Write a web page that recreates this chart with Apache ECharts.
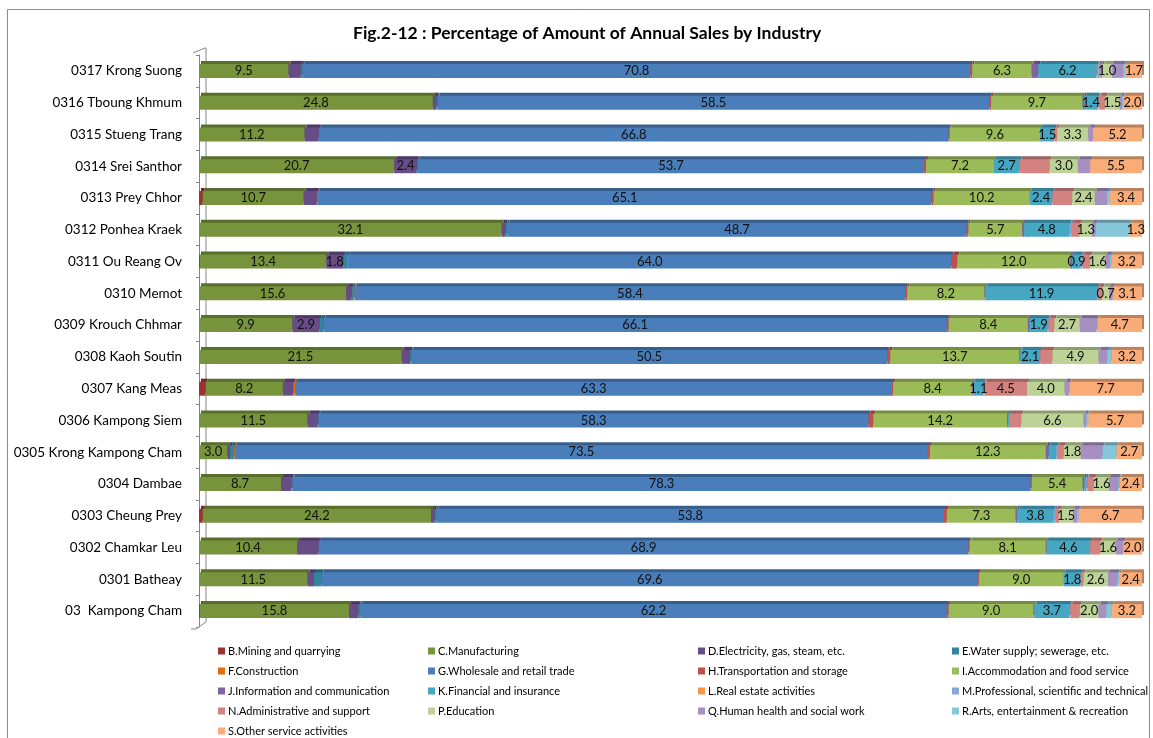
<!DOCTYPE html>
<html lang="en">
<head>
<meta charset="UTF-8">
<title>Fig.2-12</title>
<style>
  html, body { margin: 0; padding: 0; background: #fff; }
  #main { width: 1153px; height: 738px; }
</style>
</head>
<body>
<div id="main"></div>
<script src="https://cdn.jsdelivr.net/npm/echarts@6/dist/echarts.min.js"></script>
<script>
// districts, bottom to top as the axis draws them
var districts = ['03  Kampong Cham', '0301 Batheay', '0302 Chamkar Leu', '0303 Cheung Prey', '0304 Dambae',
  '0305 Krong Kampong Cham', '0306 Kampong Siem', '0307 Kang Meas', '0308 Kaoh Soutin', '0309 Krouch Chhmar',
  '0310 Memot', '0311 Ou Reang Ov', '0312 Ponhea Kraek', '0313 Prey Chhor', '0314 Srei Santhor',
  '0315 Stueng Trang', '0316 Tboung Khmum', '0317 Krong Suong'];

// share of annual sales (%) by industry, same order as districts
var mining    = [0.1, 0, 0, 0.4, 0, 0, 0, 0.7, 0, 0, 0, 0.1, 0, 0.4, 0, 0, 0, 0];
var manufact  = [15.8, 11.5, 10.4, 24.2, 8.7, 3.0, 11.5, 8.2, 21.5, 9.9, 15.6, 13.4, 32.1, 10.7, 20.7, 11.2, 24.8, 9.5];
var electric  = [1.0, 0.7, 2.3, 0.4, 1.1, 0.3, 1.1, 1.1, 0.9, 2.9, 0.6, 1.8, 0.4, 1.4, 2.4, 1.5, 0.4, 1.3];
var water     = [0.2, 0.8, 0, 0.2, 0.1, 0.4, 0.1, 0, 0.1, 0.4, 0.2, 0.4, 0.2, 0, 0.1, 0, 0.1, 0.2];
var construct = [0, 0, 0, 0, 0, 0.1, 0, 0.2, 0, 0, 0.1, 0.1, 0, 0.1, 0, 0, 0, 0];
var wholesale = [62.2, 69.6, 68.9, 53.8, 78.3, 73.5, 58.3, 63.3, 50.5, 66.1, 58.4, 64.0, 48.7, 65.1, 53.7, 66.8, 58.5, 70.8];
var transport = [0.2, 0.1, 0.1, 0.3, 0.1, 0.2, 0.5, 0.1, 0.3, 0.2, 0.2, 0.6, 0.2, 0.2, 0.2, 0.1, 0.2, 0.2];
var accommod  = [9.0, 9.0, 8.1, 7.3, 5.4, 12.3, 14.2, 8.4, 13.7, 8.4, 8.2, 12.0, 5.7, 10.2, 7.2, 9.6, 9.7, 6.3];
var infocomm  = [0.1, 0, 0.1, 0.2, 0.2, 0.3, 0.1, 0.1, 0.1, 0.2, 0.1, 0.2, 0.2, 0, 0, 0, 0.2, 0.7];
var financial = [3.7, 1.8, 4.6, 3.8, 0.2, 0.8, 0.1, 1.1, 2.1, 1.9, 11.9, 0.9, 4.8, 2.4, 2.7, 1.5, 1.4, 6.2];
var realest   = [0, 0, 0, 0, 0, 0, 0, 0, 0, 0, 0, 0, 0, 0, 0, 0, 0.1, 0.1];
var professnl = [0.1, 0, 0, 0.2, 0.1, 0.2, 0, 0.1, 0, 0.1, 0, 0.2, 0.2, 0, 0, 0, 0.1, 0.3];
var adminsup  = [1.0, 0.3, 1.1, 0.4, 0.7, 0.6, 1.3, 4.5, 1.3, 0.6, 0.5, 0.8, 0.9, 2.1, 3.2, 0.3, 0.6, 0.2];
var education = [2.0, 2.6, 1.6, 1.5, 1.6, 1.8, 6.6, 4.0, 4.9, 2.7, 0.7, 1.6, 1.3, 2.4, 3.0, 3.3, 1.5, 1.0];
var health    = [0.8, 1.0, 0.8, 0.4, 1.0, 2.3, 0.3, 0.5, 0.9, 1.8, 0.4, 0.5, 0.4, 1.3, 1.3, 0.5, 0.3, 1.2];
var arts      = [0.6, 0.2, 0, 0.2, 0.1, 1.5, 0.2, 0, 0.5, 0.1, 0, 0.2, 3.6, 0.3, 0, 0, 0.1, 0.3];
var otherserv = [3.2, 2.4, 2.0, 6.7, 2.4, 2.7, 5.7, 7.7, 3.2, 4.7, 3.1, 3.2, 1.3, 3.4, 5.5, 5.2, 2.0, 1.7];

// name, data, colour, smallest value that gets a label (null = never)
var industries = [
  ['B.Mining and quarrying', mining, '#9B3431', null],
  ['C.Manufacturing', manufact, '#77933C', 0.5],
  ['D.Electricity, gas, steam, etc.', electric, '#674C86', 1.8],
  ['E.Water supply; sewerage, etc.', water, '#31859C', null],
  ['F.Construction', construct, '#E46C0A', null],
  ['G.Wholesale and retail trade', wholesale, '#4A7EBB', 0.5],
  ['H.Transportation and storage', transport, '#C0504D', null],
  ['I.Accommodation and food service', accommod, '#9BBB59', 0.5],
  ['J.Information and communication', infocomm, '#8064A2', null],
  ['K.Financial and insurance', financial, '#46A7C2', 0.9],
  ['L.Real estate activities', realest, '#F79646', null],
  ['M.Professional, scientific and technical', professnl, '#88A6D6', null],
  ['N.Administrative and support', adminsup, '#D38280', 4.0],
  ['P.Education', education, '#BDD296', 0.5],
  ['Q.Human health and social work', health, '#A690C2', null],
  ['R.Arts, entertainment & recreation', arts, '#86C6D9', null],
  ['S.Other service activities', otherserv, '#F9AC78', 0.5]
];
// labels the original leaves off
var hiddenLabels = [['0302 Chamkar Leu', 'D.Electricity, gas, steam, etc.']];

function darker(hex, k) {
  var n = parseInt(hex.slice(1), 16);
  var r = Math.round(((n >> 16) & 255) * k), g = Math.round(((n >> 8) & 255) * k), b = Math.round((n & 255) * k);
  return 'rgb(' + r + ',' + g + ',' + b + ')';
}

var FONT = 'Lato, "Open Sans", sans-serif';
var GRID = { left: 199, right: 11, top: 55, bottom: 111 };
var AXIS_GREY = '#868686';

var series = industries.map(function (ind) {
  return {
    name: ind[0],
    type: 'bar',
    stack: 'total',
    barWidth: 14,
    data: ind[1],
    itemStyle: {
      color: ind[2],
      shadowColor: darker(ind[2], 0.75),
      shadowBlur: 0,
      shadowOffsetX: 2,
      shadowOffsetY: -3
    },
    label: {
      show: ind[3] !== null,
      position: 'inside',
      color: '#111',
      fontFamily: FONT,
      fontSize: 13,
      formatter: function (p) {
        if (ind[3] === null || p.value < ind[3]) return '';
        for (var i = 0; i < hiddenLabels.length; i++) {
          if (hiddenLabels[i][0] === p.name && hiddenLabels[i][1] === ind[0]) return '';
        }
        return p.value.toFixed(1);
      }
    },
    emphasis: { disabled: true }
  };
});

// legend laid out in four columns like the original
var legendCols = [[0, 4, 8, 12, 16], [1, 5, 9, 13], [2, 6, 10, 14], [3, 7, 11, 15]];
var legendLeft = [213, 423, 693, 947];
var legends = legendCols.map(function (col, c) {
  return {
    orient: 'vertical',
    left: legendLeft[c],
    top: 639,
    height: 120,
    itemWidth: 7,
    itemHeight: 7,
    itemGap: 6,
    icon: 'rect',
    selectedMode: false,
    itemStyle: { shadowBlur: 0, shadowOffsetX: 0, shadowOffsetY: 0, shadowColor: 'transparent' },
    textStyle: { fontFamily: FONT, fontSize: 11, color: '#000', lineHeight: 14, padding: [0, 0, 0, -2] },
    data: col.map(function (i) { return industries[i][0]; })
  };
});

// 3D-looking wall edges beside the category axis
var axisX = GRID.left - 6, wallX = GRID.left + 7;
var plotBottom = 738 - GRID.bottom;
var wall = [
  { type: 'polyline', shape: { points: [[axisX, GRID.top - 2], [wallX - 1, GRID.top - 7], [wallX, GRID.top - 7], [wallX, plotBottom - 5]] } },
  { type: 'polyline', shape: { points: [[axisX - 2, plotBottom + 2], [axisX + 3, plotBottom + 2], [wallX, plotBottom - 5]] } }
].map(function (g) {
  g.style = { fill: 'none', stroke: AXIS_GREY, lineWidth: 1 };
  g.silent = true;
  g.z = -1;
  return g;
});

var option = {
  animation: false,
  backgroundColor: '#fff',
  title: {
    text: 'Fig.2-12 : Percentage of Amount of Annual Sales by Industry',
    left: 348,
    top: 19,
    textStyle: { fontFamily: FONT, fontSize: 17.5, fontWeight: 'bold', color: '#000' }
  },
  graphic: [{
    type: 'rect',
    shape: { x: 7.5, y: 9.5, width: 1142, height: 740 },
    style: { fill: 'none', stroke: '#8c8c8c', lineWidth: 1 },
    silent: true
  }].concat(wall),
  legend: legends,
  grid: GRID,
  xAxis: {
    type: 'value',
    min: 0,
    max: 100,
    show: false
  },
  yAxis: {
    type: 'category',
    data: districts,
    offset: 6,
    axisLine: { lineStyle: { color: AXIS_GREY } },
    axisTick: { show: true, length: 3, lineStyle: { color: AXIS_GREY } },
    axisLabel: { color: '#000', fontFamily: FONT, fontSize: 13.5, margin: 11 }
  },
  series: series
};

var chart = echarts.init(document.getElementById('main'));
chart.setOption(option);
</script>
</body>
</html>
